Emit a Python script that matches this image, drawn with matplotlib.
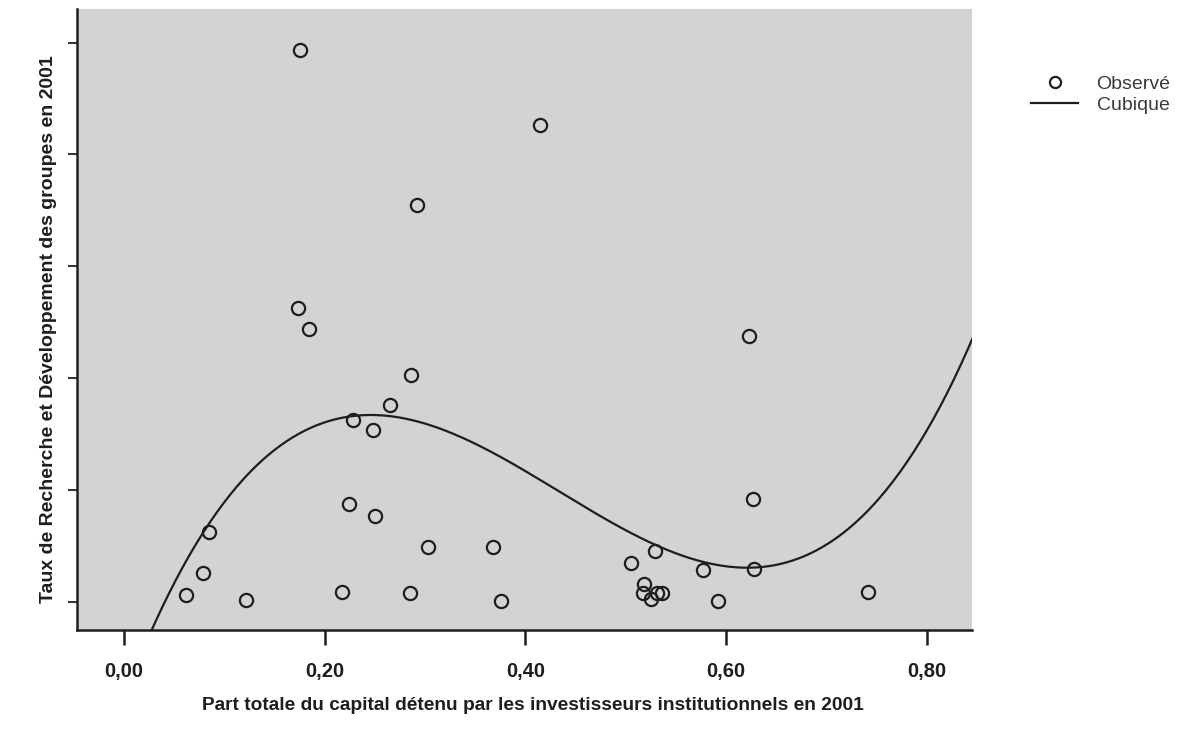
import numpy as np
import matplotlib.pyplot as plt
from matplotlib.lines import Line2D

# Observed points (x = part du capital, y = taux R&D, y tick units)
part_capital = [0.1753, 0.4144, 0.2919, 0.1733, 0.1843, 0.6227, 0.2859, 0.2650,
                0.2281, 0.2481, 0.6266, 0.2242, 0.0847, 0.2501, 0.3029, 0.3676,
                0.5051, 0.5290, 0.5768, 0.6276, 0.0787, 0.0618, 0.1215, 0.2172,
                0.2849, 0.3756, 0.5180, 0.5171, 0.5250, 0.5310, 0.5360, 0.5918,
                0.7412]
taux_rd = [4.93, 4.26, 3.545, 2.625, 2.4375, 2.375, 2.027, 1.759,
           1.625, 1.536, 0.920, 0.875, 0.625, 0.768, 0.491, 0.491,
           0.348, 0.455, 0.286, 0.295, 0.259, 0.0625, 0.018, 0.089,
           0.080, 0.009, 0.161, 0.080, 0.027, 0.080, 0.080, 0.009,
           0.089]

xticks = [0.0, 0.2, 0.4, 0.6, 0.8]
xtick_labels = ['0,00', '0,20', '0,40', '0,60', '0,80']
yticks = [0, 1, 2, 3, 4, 5]

narrow = ['Liberation Sans Narrow', 'Liberation Sans', 'DejaVu Sans']

fig = plt.figure(figsize=(11.81, 7.36), dpi=100)
ax = fig.add_axes([0.0652, 0.144, 0.823 - 0.0652, 0.9878 - 0.144])
ax.set_facecolor('#d2d3d5')

# cubic regression of the observed points
coef = np.polyfit(part_capital, taux_rd, 3)
xs = np.linspace(-0.05, 0.85, 400)
ax.plot(xs, np.polyval(coef, xs), color='#1e1e1e', lw=1.6)

ax.plot(part_capital, taux_rd, 'o', ms=9.5, mfc='none', mec='#1e1e1e', mew=1.6)

ax.set_xlim(-0.0468, 0.845)
ax.set_ylim(-0.25, 5.3)
ax.set_xticks(xticks)
ax.set_xticklabels(xtick_labels, fontsize=14.5, fontweight='bold',
                   family=['Liberation Sans', 'DejaVu Sans'], color='#1e1e1e')
ax.set_yticks(yticks)
ax.set_yticklabels([])
ax.tick_params(axis='x', length=11, width=1.8, pad=12, color='#1e1e1e')
ax.tick_params(axis='y', length=6.5, width=1.3, color='#1e1e1e')
for s in ['top', 'right']:
    ax.spines[s].set_visible(False)
for s in ['left', 'bottom']:
    ax.spines[s].set_linewidth(1.8)
    ax.spines[s].set_color('#1e1e1e')

fig.text(0.451, 0.041, 'Part totale du capital détenu par les investisseurs institutionnels en 2001',
         ha='center', va='center', fontsize=13.8, fontweight='bold', family=narrow, color='#1e1e1e')
fig.text(0.041, 0.553, 'Taux de Recherche et Développement des groupes en 2001',
         ha='center', va='center', rotation=90, fontsize=14, fontweight='bold',
         family=narrow, color='#1e1e1e')

handles = [Line2D([], [], marker='o', ls='none', ms=8, mfc='none', mec='#1e1e1e', mew=1.6),
           Line2D([], [], color='#1e1e1e', lw=1.6)]
leg = fig.legend(handles, ['Observé', 'Cubique'], loc='upper left',
                 bbox_to_anchor=(0.8585, 0.922), frameon=False, handlelength=2.4,
                 handletextpad=0.95, labelspacing=0.2,
                 prop={'family': narrow, 'size': 14})
for t in leg.get_texts():
    t.set_color('#3a3a3a')

fig.savefig('out.png', dpi=100)
